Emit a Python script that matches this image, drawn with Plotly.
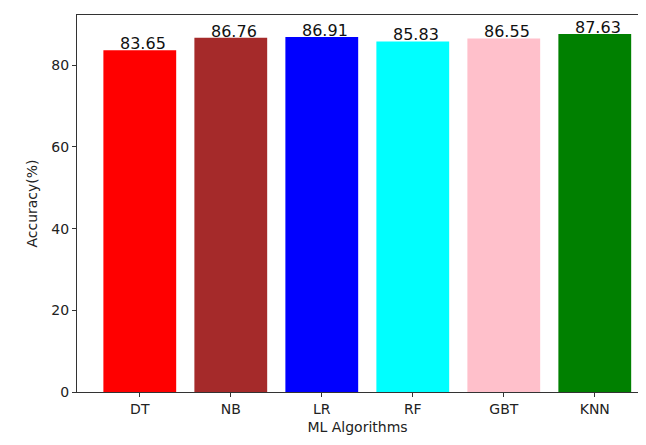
import plotly.graph_objects as go

algorithms = ["DT", "NB", "LR", "RF", "GBT", "KNN"]
accuracy = [83.65, 86.76, 86.91, 85.83, 86.55, 87.63]
bar_colors = ["red", "brown", "blue", "cyan", "pink", "green"]
y_ticks = [0, 20, 40, 60, 80]

xs = list(range(len(algorithms)))

fig = go.Figure()
fig.add_trace(go.Bar(
    x=xs, y=accuracy, width=0.8,
    marker=dict(color=bar_colors, line=dict(width=0)),
    hoverinfo="x+y", showlegend=False,
))

for i, v in zip(xs, accuracy):
    fig.add_annotation(
        x=i - 0.24, y=v, xref="x", yref="y", text=f"{v:.2f}",
        showarrow=False, xanchor="left", yanchor="bottom", yshift=-5,
        font=dict(family="DejaVu Sans", size=16, color="#111"),
    )

# page body has an 8px default margin; keep the figure inside the window
fig.update_layout(
    width=630, height=429,
    margin=dict(l=69, r=0, t=7, b=45),
    plot_bgcolor="white", paper_bgcolor="white",
    font=dict(family="DejaVu Sans", size=14, color="#222"),
    bargap=0.2,
)
fig.update_xaxes(
    range=[-0.69, 5.475], tickmode="array", tickvals=xs, ticktext=algorithms,
    showgrid=False, zeroline=False, showline=True, linecolor="#333", linewidth=1,
    mirror=True, ticks="outside", ticklen=4, tickcolor="#333", automargin=False,
    title=dict(text="ML Algorithms", standoff=6, font=dict(size=14)),
)
fig.update_yaxes(
    range=[0, 92.3], tickmode="array", tickvals=y_ticks,
    showgrid=False, zeroline=False, showline=True, linecolor="#333", linewidth=1,
    mirror=False, ticks="outside", ticklen=4, tickcolor="#333", automargin=False,
    title=dict(text="Accuracy(%)", standoff=10, font=dict(size=14)),
)

fig.write_html("out.html")
